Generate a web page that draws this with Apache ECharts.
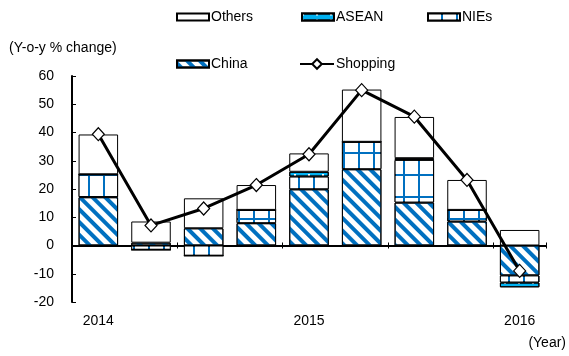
<!DOCTYPE html>
<html>
<head>
<meta charset="utf-8">
<script src="https://cdn.jsdelivr.net/npm/echarts@6/dist/echarts.min.js"></script>
<style>
  html, body { margin: 0; padding: 0; background: #fff; }
  #chart { width: 569px; height: 356px; }
</style>
</head>
<body>
<div id="chart"></div>
<script>
// Quarterly categories (2014 Q1 .. 2016 Q1)
var categories = ['2014 Q1', '2014 Q2', '2014 Q3', '2014 Q4', '2015 Q1', '2015 Q2', '2015 Q3', '2015 Q4', '2016 Q1'];
var yearLabels = ['2014', '', '', '', '2015', '', '', '', '2016'];

// Contributions by region (percentage points, y-o-y)
var china    = [17.1, 1.0, 6.1, 7.9, 19.9, 27.0, 15.2, 8.5, -10.6];
var nies     = [8.1, -1.5, -3.6, 4.7, 4.5, 9.7, 15.1, 4.1, -2.5];
var asean    = [0, 0, 0, 0, 1.7, 0, 0.6, 0, -1.7];
var others   = [14.1, 7.5, 10.6, 8.8, 6.5, 18.5, 14.6, 10.6, 5.5];
// Shopping spending, y-o-y % change
var shopping = [39.4, 7.1, 13.1, 21.4, 32.3, 55.0, 45.6, 23.2, -9.0];

var FONT = 'Liberation Sans, Arial, sans-serif';
var BLUE = '#0070C0';
var LIGHT_BLUE = '#00B0F0';

var chart = echarts.init(document.getElementById('chart'), null, { renderer: 'canvas' });

var barBase = {
  type: 'bar',
  stack: 'total',
  barWidth: '75%',
  xAxisIndex: 0,
  yAxisIndex: 0
};

function legendAt(name, left, top, icon) {
  return {
    data: [icon ? { name: name, icon: icon } : { name: name, icon: 'rect' }],
    left: left,
    top: top,
    itemWidth: 32,
    itemHeight: 7,
    padding: 0,
    selectedMode: false,
    textStyle: { fontFamily: FONT, fontSize: 14, color: '#000', padding: [0, 0, 0, -3] }
  };
}

var option = {
  backgroundColor: '#fff',
  animation: false,
  textStyle: { fontFamily: FONT },
  legend: [
    legendAt('Others', 176, 10),
    legendAt('ASEAN', 301, 10),
    legendAt('NIEs', 427, 10),
    legendAt('China', 176, 57),
    Object.assign(legendAt('Shopping', 299, 57, null), {
      data: ['Shopping'], itemWidth: 34, itemHeight: 12
    })
  ],
  graphic: [
    { type: 'text', left: 9, top: 41, style: { text: '(Y-o-y % change)', font: '14px ' + FONT, fill: '#000' } },
    { type: 'text', right: 3, top: 336, style: { text: '(Year)', font: '14px ' + FONT, fill: '#000' } }
  ],
  grid: { left: 72, right: 23, top: 76, bottom: 54, containLabel: false },
  xAxis: [
    {
      type: 'category', data: categories, position: 'bottom',
      axisLine: { onZero: true, lineStyle: { color: '#000', width: 2 } },
      axisTick: { show: true, inside: true, length: 3, lineStyle: { color: '#000', width: 1 } },
      axisLabel: { show: false }, splitLine: { show: false }
    },
    {
      type: 'category', data: categories, position: 'bottom',
      axisLine: { show: false, onZero: true, onZeroAxisIndex: 0 },
      axisTick: { show: true, inside: false, length: 3, lineStyle: { color: '#000', width: 1 } },
      axisLabel: { show: false }, splitLine: { show: false }
    },
    {
      type: 'category', data: yearLabels, position: 'bottom',
      axisLine: { show: false, onZero: false },
      axisTick: { show: false },
      axisLabel: { show: true, interval: 0, margin: 12, fontSize: 14, color: '#000', fontFamily: FONT },
      splitLine: { show: false }
    }
  ],
  yAxis: {
    type: 'value', min: -20, max: 60, interval: 10,
    axisLine: { show: true, lineStyle: { color: '#000', width: 2 } },
    axisTick: { show: true, inside: true, length: 4, lineStyle: { color: '#000', width: 1 } },
    axisLabel: { fontSize: 14, color: '#000', margin: 18, fontFamily: FONT },
    splitLine: { show: false }
  },
  series: [
    Object.assign({}, barBase, {
      name: 'China', data: china,
      itemStyle: {
        color: '#fff', borderColor: '#000', borderWidth: 1,
        decal: { symbol: 'rect', symbolSize: 1, color: BLUE, dashArrayX: [1, 0], dashArrayY: [4, 5], rotation: Math.PI / 4 }
      }
    }),
    Object.assign({}, barBase, {
      name: 'NIEs', data: nies,
      itemStyle: {
        color: BLUE, borderColor: '#000', borderWidth: 1,
        decal: { symbol: 'rect', symbolSize: 1, color: '#fff', dashArrayX: [13, 2], dashArrayY: [20, 2], rotation: 0 }
      }
    }),
    Object.assign({}, barBase, {
      name: 'ASEAN', data: asean,
      itemStyle: {
        color: LIGHT_BLUE, borderColor: '#000', borderWidth: 1,
        decal: { symbol: 'rect', symbolSize: 1, color: '#fff', dashArrayX: [2, 12], dashArrayY: [2, 4], rotation: 0 }
      }
    }),
    Object.assign({}, barBase, {
      name: 'Others', data: others,
      itemStyle: { color: '#fff', borderColor: '#000', borderWidth: 1 }
    }),
    {
      name: 'Shopping', type: 'line', data: shopping,
      xAxisIndex: 0, yAxisIndex: 0, z: 5,
      symbol: 'diamond', symbolSize: [12, 13],
      lineStyle: { color: '#000', width: 3 },
      itemStyle: { color: '#fff', borderColor: '#000', borderWidth: 1.2 }
    }
  ]
};

chart.setOption(option);
</script>
</body>
</html>
